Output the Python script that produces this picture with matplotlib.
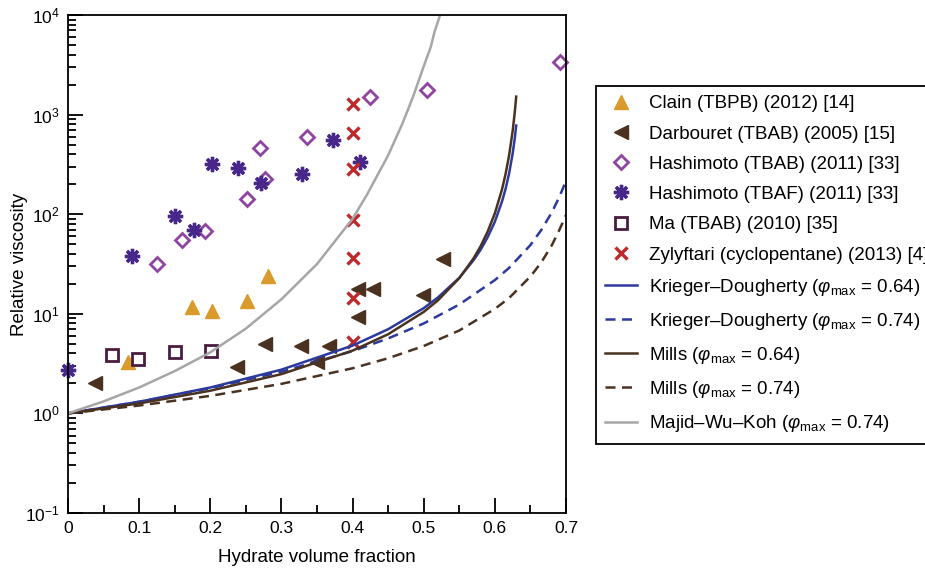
import matplotlib
matplotlib.use("Agg")
import matplotlib.pyplot as plt

plt.rcParams['font.family'] = ['Liberation Sans', 'DejaVu Sans']
plt.rcParams['mathtext.fontset'] = 'custom'
plt.rcParams['mathtext.rm'] = 'Liberation Sans'
plt.rcParams['mathtext.it'] = 'Liberation Sans:italic'
plt.rcParams['mathtext.bf'] = 'Liberation Sans:bold'

OUT_NAME = "out.png"
X_LABEL = "Hydrate volume fraction"
Y_LABEL = "Relative viscosity"
FONT_SIZE = 13.5
TICK_SIZE = 12.5

# measured points (hydrate volume fraction, relative viscosity)
clain_x = [0.085, 0.175, 0.202, 0.251, 0.281]
clain_y = [3.3, 11.7, 10.6, 13.4, 23.8]

darbouret_x = [0.038, 0.238, 0.277, 0.327, 0.350, 0.367, 0.408, 0.429, 0.408, 0.499, 0.527]
darbouret_y = [2.0, 2.9, 5.0, 4.8, 3.3, 4.8, 17.6, 17.6, 9.2, 15.3, 35.3]

hashimoto_tbab_x = [0.125, 0.160, 0.193, 0.251, 0.270, 0.277, 0.336, 0.425, 0.504, 0.692]
hashimoto_tbab_y = [31.4, 54.8, 68, 143, 460, 228, 595, 1510, 1760, 3370]

hashimoto_tbaf_x = [0.0, 0.090, 0.150, 0.177, 0.202, 0.239, 0.271, 0.329, 0.373, 0.411]
hashimoto_tbaf_y = [2.7, 37.8, 95.5, 69, 320, 290, 204, 252, 556, 332]

ma_x = [0.062, 0.098, 0.150, 0.201]
ma_y = [3.9, 3.5, 4.1, 4.2]

zylyftari_x = [0.401, 0.401, 0.401, 0.401, 0.401, 0.401, 0.401]
zylyftari_y = [1280, 650, 283, 87, 36, 14.3, 5.2]

# model curves
kd064_x = [0.0, 0.1, 0.2, 0.3, 0.4, 0.45, 0.5, 0.52, 0.55, 0.57, 0.58, 0.59,
           0.6, 0.61, 0.615, 0.62, 0.625, 0.628, 0.63]
kd064_y = [1.0, 1.31, 1.82, 2.75, 4.8, 7.0, 11.4, 14.6, 23, 34.5, 44, 59,
           84, 134, 179, 256, 406, 580, 776]

kd074_x = [0.0, 0.1, 0.2, 0.3, 0.4, 0.45, 0.5, 0.55, 0.6, 0.62, 0.65, 0.665,
           0.68, 0.69, 0.7]
kd074_y = [1.0, 1.31, 1.79, 2.62, 4.22, 5.66, 8.0, 12.4, 21.8, 28.9, 49, 69,
           104, 146, 215]

mills064_x = [0.0, 0.1, 0.2, 0.3, 0.4, 0.45, 0.5, 0.52, 0.55, 0.57, 0.58, 0.59,
              0.6, 0.61, 0.615, 0.62, 0.625, 0.628, 0.63]
mills064_y = [1.0, 1.26, 1.69, 2.48, 4.27, 6.24, 10.45, 13.65, 22.8, 36, 47.8, 67.2,
              102, 177, 252, 389, 683, 1058, 1515]

mills074_x = [0.0, 0.1, 0.2, 0.3, 0.4, 0.45, 0.5, 0.55, 0.6, 0.62, 0.65, 0.665,
              0.68, 0.69, 0.7]
mills074_y = [1.0, 1.2, 1.5, 1.98, 2.84, 3.58, 4.75, 6.8, 11.2, 14.4, 23.7, 32.6,
              48.7, 67.9, 98]

mwk_x = [0.0, 0.05, 0.1, 0.15, 0.2, 0.25, 0.3, 0.35, 0.4, 0.42, 0.45, 0.47,
         0.485, 0.5, 0.51, 0.515, 0.522, 0.53]
mwk_y = [1.0, 1.32, 1.82, 2.66, 4.1, 7.1, 14.0, 31.6, 90, 156, 390, 810,
         1510, 3050, 4800, 6700, 9500, 16000]

ORANGE = "#DA9A2C"
BROWN = "#4B3220"
VIOLET = "#8E44A0"
INDIGO = "#47288A"
MAROON = "#4A1D40"
RED = "#C0282A"
BLUE = "#2B3A9C"
GREY = "#A6A6A6"

fig = plt.figure(figsize=(9.25, 5.68), dpi=100)
ax = fig.add_axes([0.0735, 0.0968, 0.5384, 0.8768])

ax.plot(clain_x, clain_y, ls="none", marker="^", ms=10, color=ORANGE,
        clip_on=False, label="Clain (TBPB) (2012) [14]")
ax.plot(darbouret_x, darbouret_y, ls="none", marker="<", ms=10, color=BROWN,
        clip_on=False, label="Darbouret (TBAB) (2005) [15]")
ax.plot(hashimoto_tbab_x, hashimoto_tbab_y, ls="none", marker="D", ms=7.5,
        mfc="white", mec=VIOLET, mew=2, clip_on=False,
        label="Hashimoto (TBAB) (2011) [33]")
ax.plot(hashimoto_tbaf_x, hashimoto_tbaf_y, ls="none", marker=(8, 2, 0), ms=11,
        mec=INDIGO, mew=2.4, clip_on=False,
        label="Hashimoto (TBAF) (2011) [33]")
ax.plot(ma_x, ma_y, ls="none", marker="s", ms=9, mfc="white", mec=MAROON,
        mew=2, clip_on=False, label="Ma (TBAB) (2010) [35]")
ax.plot(zylyftari_x, zylyftari_y, ls="none", marker="x", ms=8, mec=RED,
        mew=2.4, clip_on=False,
        label="Zylyftari (cyclopentane) (2013) [4]")

ax.plot(kd064_x, kd064_y, color=BLUE, lw=1.8,
        label=r"Krieger–Dougherty ($\varphi_{\rm max}$ = 0.64)")
ax.plot(kd074_x, kd074_y, color=BLUE, lw=1.8, dashes=(4, 2.6),
        label=r"Krieger–Dougherty ($\varphi_{\rm max}$ = 0.74)")
ax.plot(mills064_x, mills064_y, color=BROWN, lw=1.8,
        label=r"Mills ($\varphi_{\rm max}$ = 0.64)")
ax.plot(mills074_x, mills074_y, color=BROWN, lw=1.8, dashes=(4, 2.6),
        label=r"Mills ($\varphi_{\rm max}$ = 0.74)")
ax.plot(mwk_x, mwk_y, color=GREY, lw=1.8,
        label=r"Majid–Wu–Koh ($\varphi_{\rm max}$ = 0.74)")

ax.set_yscale("log")
ax.set_xlim(0, 0.7)
ax.set_ylim(0.1, 1e4)
ax.set_xticks([0, 0.1, 0.2, 0.3, 0.4, 0.5, 0.6, 0.7])
ax.set_xticklabels(["0", "0.1", "0.2", "0.3", "0.4", "0.5", "0.6", "0.7"])
ax.set_xticks([0.05, 0.15, 0.25, 0.35, 0.45, 0.55, 0.65], minor=True)
ax.tick_params(which="both", direction="in", top=False, right=False,
               width=1.3, labelsize=TICK_SIZE, color="black")
ax.tick_params(which="major", length=10.5, pad=6)
ax.tick_params(which="minor", length=6)
for spine in ax.spines.values():
    spine.set_linewidth(1.3)

ax.set_xlabel(X_LABEL, fontsize=FONT_SIZE, labelpad=9)
ax.set_ylabel(Y_LABEL, fontsize=FONT_SIZE, labelpad=-2)

leg = ax.legend(loc="upper left", bbox_to_anchor=(0.644, 0.849),
                bbox_transform=fig.transFigure, fontsize=FONT_SIZE,
                numpoints=1, frameon=True, fancybox=False, framealpha=1,
                edgecolor="black", handlelength=1.7, handletextpad=0.65,
                labelspacing=0.7, borderpad=0.5, borderaxespad=0)
leg.get_frame().set_linewidth(1.3)

fig.savefig(OUT_NAME, dpi=100)
